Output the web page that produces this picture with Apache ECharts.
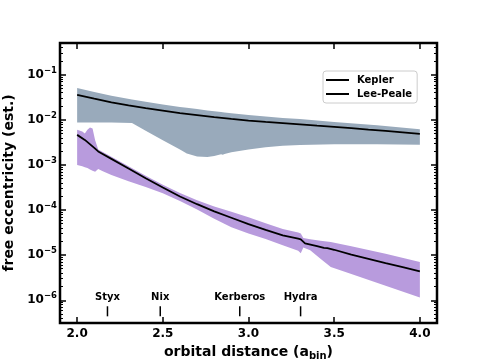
<!DOCTYPE html>
<html><head><meta charset="utf-8">
<script src="https://cdn.jsdelivr.net/npm/echarts@6/dist/echarts.min.js"></script>
<style>html,body{margin:0;padding:0;background:#fff}#c{width:484px;height:363px}</style>
</head><body><div id="c"></div>
<script>
// ---- data (y values are log10 of free eccentricity) ----
const xTicks = [2.0, 2.5, 3.0, 3.5, 4.0];
const yTickExps = [-6, -5, -4, -3, -2, -1];

const keplerX = [2.0,2.1,2.2,2.3,2.4,2.5,2.6,2.7,2.8,2.9,3.0,3.1,3.2,3.3,3.4,3.5,3.6,3.7,3.8,3.9,4.0];
const keplerLog10 = [-1.444,-1.53,-1.61,-1.68,-1.74,-1.795,-1.85,-1.895,-1.94,-1.98,-2.015,-2.045,-2.072,-2.10,-2.128,-2.155,-2.182,-2.215,-2.245,-2.277,-2.31];

const grayX = [2.0,2.1,2.2,2.32,2.4,2.5,2.6,2.64,2.7,2.76,2.8,2.84,2.85,2.86,2.9,3.0,3.1,3.2,3.3,3.5,3.75,4.0];
const grayHighLog10 = [-1.294,-1.38,-1.465,-1.55,-1.60,-1.657,-1.715,-1.734,-1.762,-1.79,-1.81,-1.827,-1.831,-1.836,-1.852,-1.89,-1.927,-1.96,-1.982,-2.047,-2.122,-2.21];
const grayLowLog10 = [-2.06,-2.06,-2.06,-2.07,-2.24,-2.45,-2.66,-2.745,-2.815,-2.825,-2.80,-2.76,-2.775,-2.755,-2.72,-2.66,-2.61,-2.575,-2.555,-2.54,-2.54,-2.55];

const leeX = [2.0,2.045,2.1,2.123,2.2,2.3,2.4,2.5,2.6,2.7,2.8,2.9,3.0,3.1,3.2,3.29,3.305,3.33,3.4,3.44,3.46,3.5,3.6,3.7,3.8,3.9,4.0];
const leeLog10 = [-2.333,-2.444,-2.62,-2.70,-2.865,-3.08,-3.295,-3.50,-3.70,-3.87,-4.03,-4.17,-4.31,-4.44,-4.56,-4.635,-4.65,-4.74,-4.80,-4.84,-4.845,-4.88,-4.99,-5.08,-5.175,-5.265,-5.36];

const purpleX = [2.0,2.03,2.045,2.06,2.075,2.09,2.105,2.123,2.15,2.2,2.3,2.4,2.5,2.6,2.7,2.8,2.9,3.0,3.1,3.2,3.29,3.305,3.32,3.36,3.42,3.48,3.6,3.8,4.0];
const purpleHighLog10 = [-2.222,-2.26,-2.30,-2.22,-2.17,-2.19,-2.45,-2.66,-2.71,-2.82,-3.03,-3.24,-3.44,-3.62,-3.78,-3.92,-4.04,-4.16,-4.29,-4.42,-4.50,-4.52,-4.62,-4.645,-4.68,-4.71,-4.80,-4.97,-5.15];
const purpleLowLog10 = [-3.00,-3.03,-3.05,-3.07,-3.10,-3.13,-3.15,-3.09,-3.14,-3.22,-3.36,-3.49,-3.63,-3.80,-3.99,-4.19,-4.38,-4.52,-4.64,-4.78,-4.90,-4.96,-4.83,-4.89,-5.08,-5.26,-5.42,-5.68,-5.94];

const moonNames = ['Styx', 'Nix', 'Kerberos', 'Hydra'];
const moonX = [2.177, 2.485, 2.949, 3.304];

// ---- layout / style ----
const FONT = 'DejaVu Sans';
const Y_MIN = -6.504, Y_MAX = -0.296;
const X_MIN = 1.9, X_MAX = 4.1;
const GRAY = '#99aabb', PURPLE = '#b89bdd';
const MOON_TICK_LOW = -6.356, MOON_TICK_HIGH = -6.133, MOON_LABEL_Y = -5.93;

const minorY = [];
for (let n = -7; n <= 0; n++) for (let k = 2; k <= 9; k++) {
  const v = n + Math.log10(k);
  if (v > Y_MIN && v < Y_MAX) minorY.push(v);
}
const zip = (xs, ys) => xs.map((x, i) => [x, ys[i]]);

const yAxisBase = (pos, custom, len, labels) => ({
  type: 'value', position: pos, min: Y_MIN, max: Y_MAX, gridIndex: 0,
  axisLine: { show: false }, splitLine: { show: false },
  axisTick: { show: true, inside: true, length: len, customValues: custom, lineStyle: { color: '#000', width: len > 4 ? 1.5 : 1 } },
  axisLabel: labels ? {
    show: true, customValues: yTickExps, margin: 3,
    formatter: v => '{b|10}{s|\u2212' + Math.abs(Math.round(v)) + '}',
    rich: {
      b: { fontFamily: FONT, fontWeight: 'bold', fontSize: 12, color: '#000' },
      s: { fontFamily: FONT, fontWeight: 'bold', fontSize: 8.5, color: '#000', padding: [0, 0, 8, 0] }
    }
  } : { show: false }
});

const xAxisBase = (pos, labels) => ({
  type: 'value', position: pos, min: X_MIN, max: X_MAX,
  axisLine: { show: false }, splitLine: { show: false },
  axisTick: { show: true, inside: true, length: 6, customValues: xTicks, lineStyle: { color: '#000', width: 1.5 } },
  axisLabel: labels ? {
    show: true, customValues: xTicks, margin: 5,
    formatter: v => v.toFixed(1),
    fontFamily: FONT, fontWeight: 'bold', fontSize: 12, color: '#000'
  } : { show: false }
});

const xA = xAxisBase('bottom', true);
xA.name = 'orbital distance (a{sub|bin})';
xA.nameLocation = 'middle';
xA.nameGap = 21;
xA.nameTextStyle = { fontFamily: FONT, fontWeight: 'bold', fontSize: 14, color: '#000',
  rich: { sub: { fontFamily: FONT, fontWeight: 'bold', fontSize: 10, color: '#000', padding: [7, 0, 0, 0] } } };

const yA = yAxisBase('left', yTickExps, 6, true);
yA.name = 'free eccentricity (est.)';
yA.nameLocation = 'middle';
yA.nameGap = 34;
yA.nameTextStyle = { fontFamily: FONT, fontWeight: 'bold', fontSize: 14, color: '#000' };

function bandSeries(name, xs, lows, highs, color) {
  return {
    name, type: 'custom', silent: true, z: 2,
    data: xs.map((x, i) => [x, lows[i], highs[i]]),
    encode: { x: 0, y: [1, 2] },
    renderItem: (params, api) => {
      if (params.dataIndex !== 0) return null;
      const pts = [];
      for (let i = 0; i < xs.length; i++) pts.push(api.coord([xs[i], lows[i]]));
      for (let i = xs.length - 1; i >= 0; i--) pts.push(api.coord([xs[i], highs[i]]));
      return { type: 'polygon', shape: { points: pts }, style: { fill: color } };
    }
  };
}

const option = {
  animation: false,
  backgroundColor: '#fff',
  grid: { left: 60, right: 47, top: 43, bottom: 40, containLabel: false, outerBoundsMode: 'none',
    show: true, borderColor: '#000', borderWidth: 2.5, backgroundColor: 'transparent' },
  xAxis: [xA, xAxisBase('top', false)],
  yAxis: [
    yA,
    yAxisBase('left', minorY, 3, false),
    yAxisBase('right', yTickExps, 6, false),
    yAxisBase('right', minorY, 3, false)
  ],
  legend: {
    left: 323, top: 71, orient: 'vertical', itemWidth: 23, itemHeight: 2, itemGap: 4, icon: 'rect',
    padding: [4, 5, 4, 3], backgroundColor: '#fff', borderColor: '#cccccc', borderWidth: 1, borderRadius: 3,
    textStyle: { fontFamily: FONT, fontWeight: 'bold', fontSize: 10, color: '#000', padding: [0, 0, 0, 3] },
    data: [{ name: 'Kepler', itemStyle: { color: '#000' } }, { name: 'Lee-Peale', itemStyle: { color: '#000' } }]
  },
  series: [
    bandSeries('grayBand', grayX, grayLowLog10, grayHighLog10, GRAY),
    bandSeries('purpleBand', purpleX, purpleLowLog10, purpleHighLog10, PURPLE),
    { name: 'Kepler', type: 'line', data: zip(keplerX, keplerLog10), symbol: 'none', color: '#000',
      lineStyle: { color: '#000', width: 1.8 }, z: 5 },
    { name: 'Lee-Peale', type: 'line', data: zip(leeX, leeLog10), symbol: 'none', color: '#000',
      lineStyle: { color: '#000', width: 1.8 }, z: 5 },
    { name: 'moons', type: 'custom', data: moonX.map(x => [x]), silent: true, z: 6,
      renderItem: (params, api) => {
        const x = api.value(0);
        const p0 = api.coord([x, MOON_TICK_LOW]);
        const p1 = api.coord([x, MOON_TICK_HIGH]);
        const pt = api.coord([x, MOON_LABEL_Y]);
        return { type: 'group', children: [
          { type: 'line', shape: { x1: p0[0], y1: p0[1], x2: p1[0], y2: p1[1] }, style: { stroke: '#000', lineWidth: 1.5 } },
          { type: 'text', x: pt[0], y: pt[1], style: { text: moonNames[params.dataIndex], align: 'center', verticalAlign: 'middle',
            textAlign: 'center', textVerticalAlign: 'middle', font: 'bold 10px "DejaVu Sans"', fill: '#000' } }
        ] };
      } }
  ]
};
const chart = echarts.init(document.getElementById('c'), null, { renderer: 'canvas' });
chart.setOption(option);
</script></body></html>
